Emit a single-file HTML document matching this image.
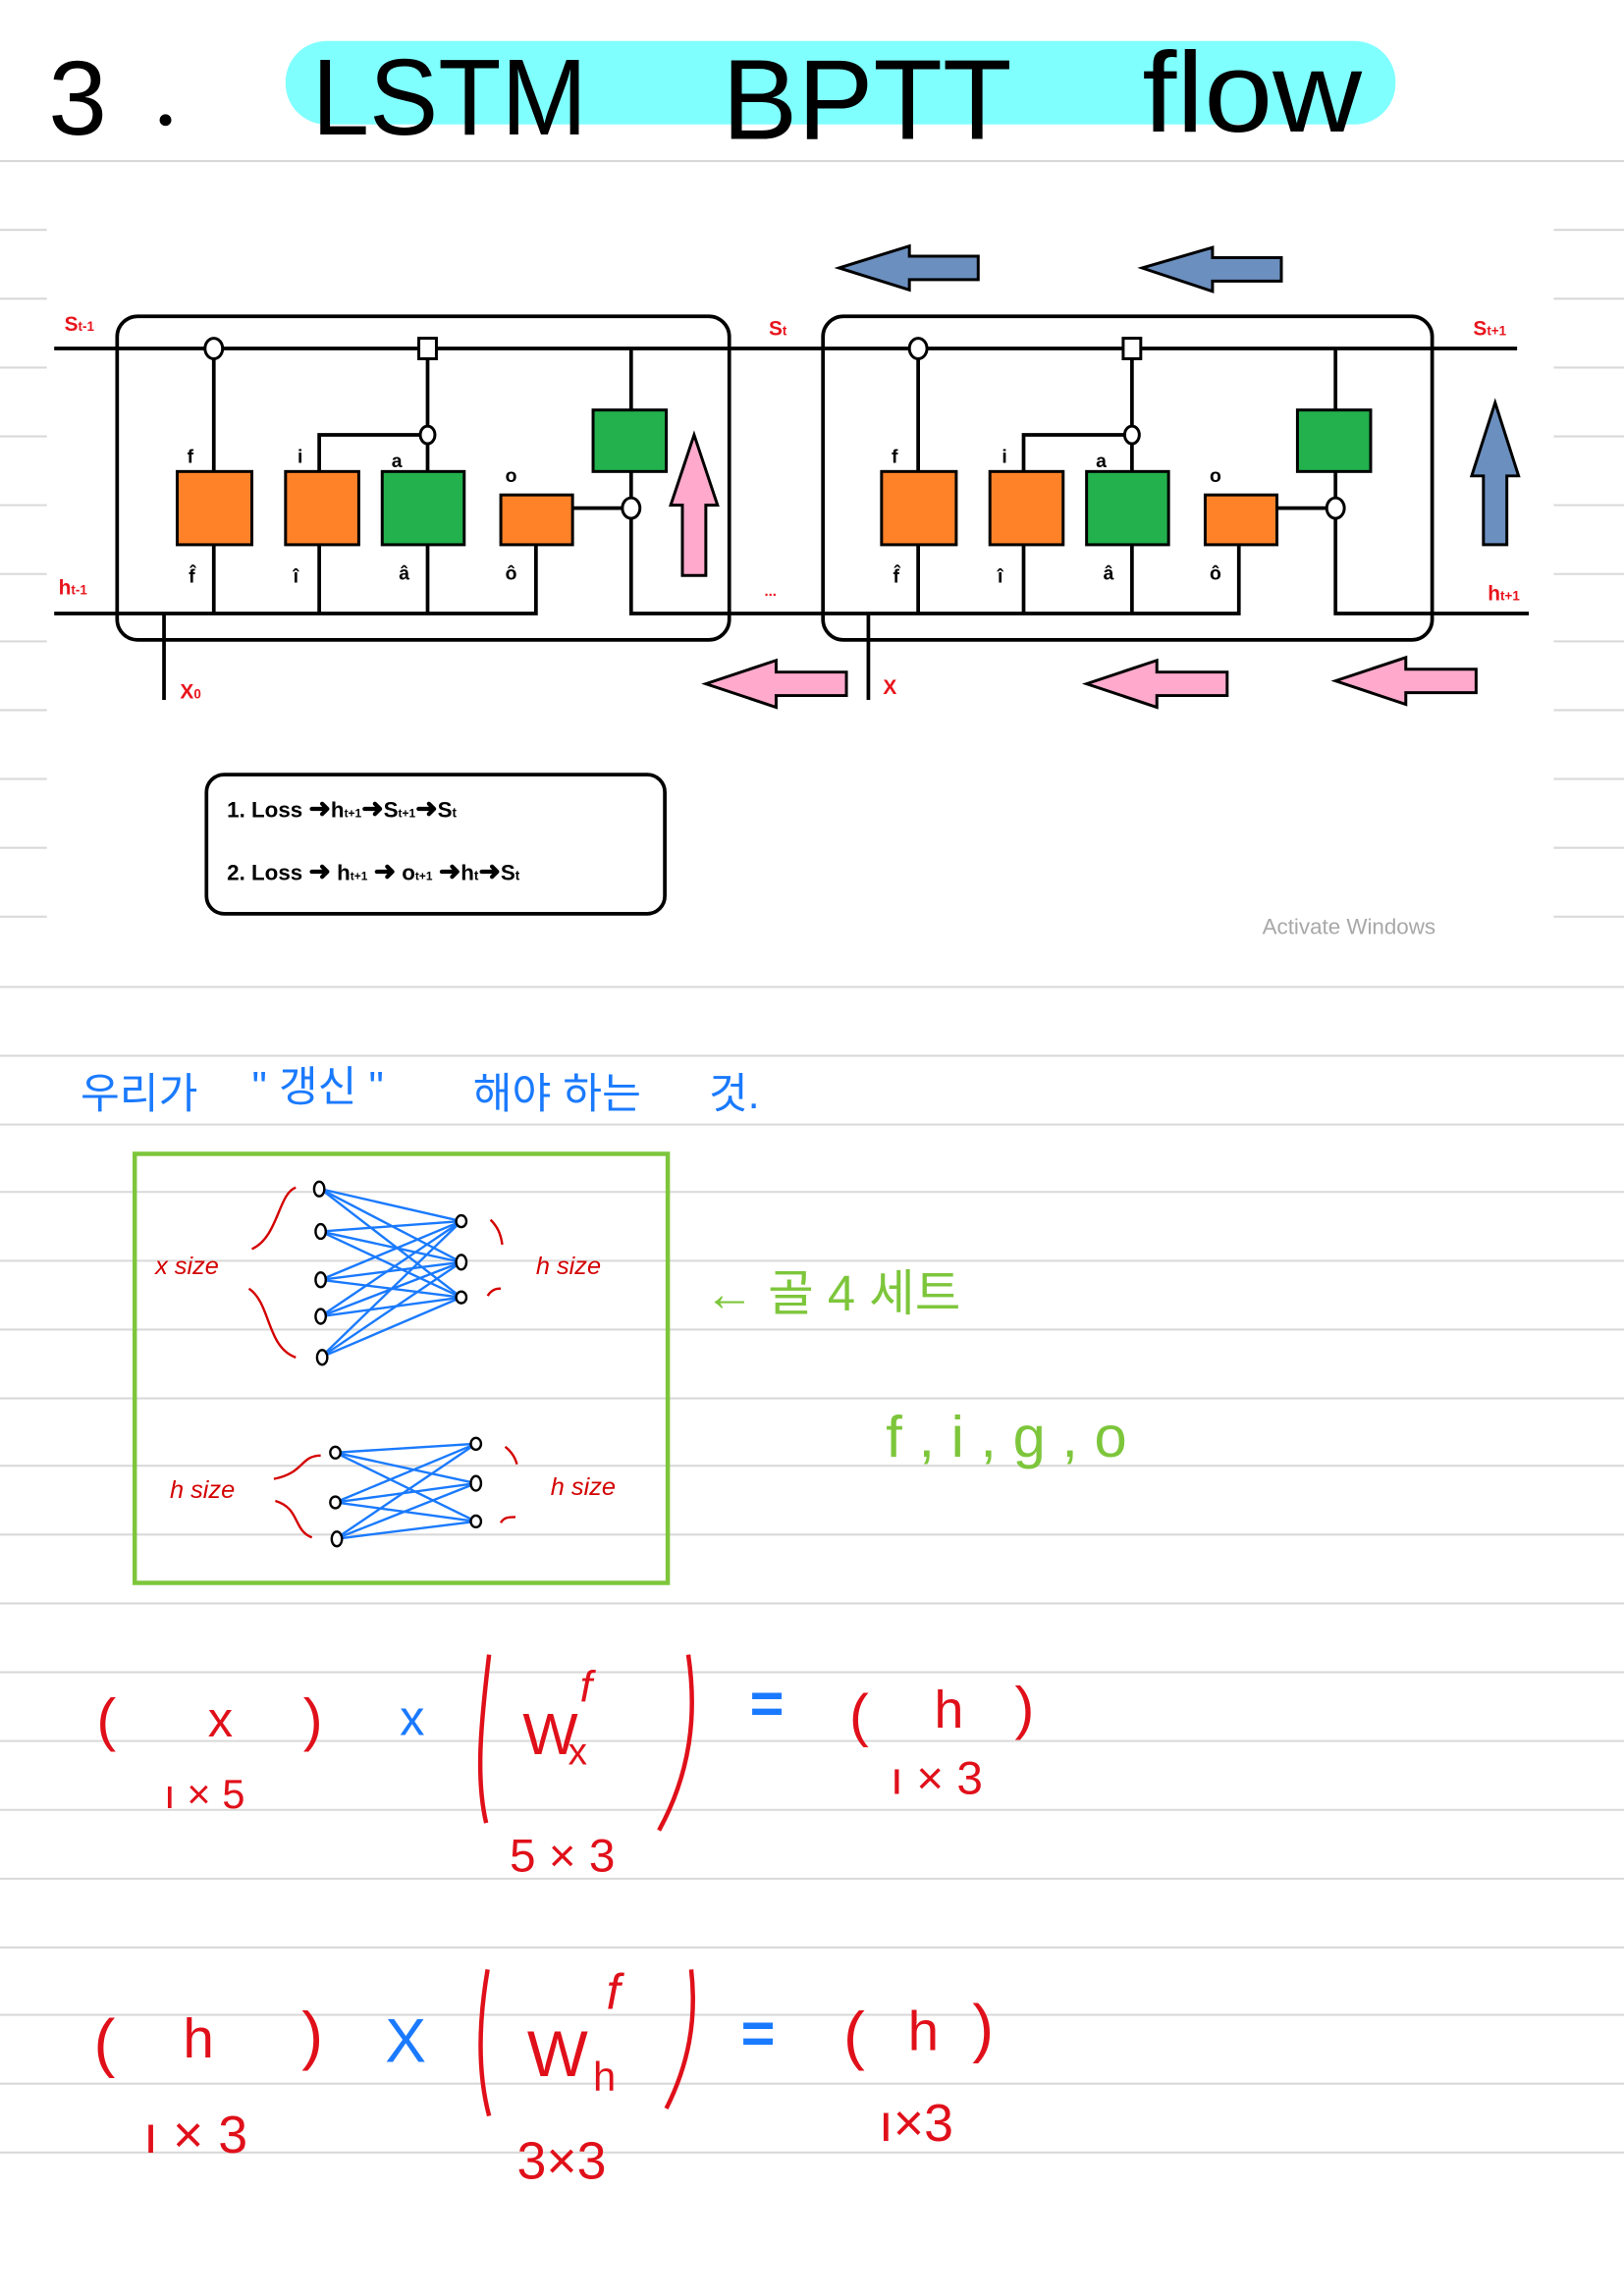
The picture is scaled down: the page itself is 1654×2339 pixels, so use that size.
<!DOCTYPE html>
<html><head><meta charset="utf-8"><style>
html,body{margin:0;padding:0;background:#fff}
svg{display:block}
text{font-family:"Liberation Sans","Noto Sans CJK KR",sans-serif}
</style></head><body>
<svg width="1654" height="2339" viewBox="0 0 1109 1568" preserveAspectRatio="none" xmlns="http://www.w3.org/2000/svg">
<rect width="1109" height="1568" fill="#fff"/>
<g stroke="#d9d9d9" stroke-width="1.4">
<line x1="0" y1="110" x2="1109" y2="110"/>
<g>
<line x1="0" y1="157" x2="32" y2="157"/><line x1="1061" y1="157" x2="1109" y2="157"/>
<line x1="0" y1="204" x2="32" y2="204"/><line x1="1061" y1="204" x2="1109" y2="204"/>
<line x1="0" y1="251" x2="32" y2="251"/><line x1="1061" y1="251" x2="1109" y2="251"/>
<line x1="0" y1="298" x2="32" y2="298"/><line x1="1061" y1="298" x2="1109" y2="298"/>
<line x1="0" y1="345" x2="32" y2="345"/><line x1="1061" y1="345" x2="1109" y2="345"/>
<line x1="0" y1="392" x2="32" y2="392"/><line x1="1061" y1="392" x2="1109" y2="392"/>
<line x1="0" y1="438" x2="32" y2="438"/><line x1="1061" y1="438" x2="1109" y2="438"/>
<line x1="0" y1="485" x2="32" y2="485"/><line x1="1061" y1="485" x2="1109" y2="485"/>
<line x1="0" y1="532" x2="32" y2="532"/><line x1="1061" y1="532" x2="1109" y2="532"/>
<line x1="0" y1="579" x2="32" y2="579"/><line x1="1061" y1="579" x2="1109" y2="579"/>
<line x1="0" y1="626" x2="32" y2="626"/><line x1="1061" y1="626" x2="1109" y2="626"/>
</g>
<line x1="0" y1="674" x2="1109" y2="674"/><line x1="0" y1="721" x2="1109" y2="721"/>
<line x1="0" y1="768" x2="1109" y2="768"/><line x1="0" y1="814" x2="1109" y2="814"/>
<line x1="0" y1="861" x2="1109" y2="861"/><line x1="0" y1="908" x2="1109" y2="908"/>
<line x1="0" y1="955" x2="1109" y2="955"/><line x1="0" y1="1001" x2="1109" y2="1001"/>
<line x1="0" y1="1048" x2="1109" y2="1048"/><line x1="0" y1="1095" x2="1109" y2="1095"/>
<line x1="0" y1="1142" x2="1109" y2="1142"/><line x1="0" y1="1189" x2="1109" y2="1189"/>
<line x1="0" y1="1236" x2="1109" y2="1236"/><line x1="0" y1="1283" x2="1109" y2="1283"/>
<line x1="0" y1="1330" x2="1109" y2="1330"/><line x1="0" y1="1376" x2="1109" y2="1376"/>
<line x1="0" y1="1423" x2="1109" y2="1423"/><line x1="0" y1="1470" x2="1109" y2="1470"/>
</g>

<!-- Title -->
<rect x="195" y="28" width="758" height="57" rx="28" fill="#80ffff"/>
<text x="33" y="92" font-size="72" fill="#000">3</text>
<circle cx="113" cy="82" r="4" fill="#000"/>
<text x="213" y="92" font-size="74" fill="#000" textLength="188" lengthAdjust="spacingAndGlyphs">LSTM</text>
<text x="493" y="95" font-size="78" fill="#000" textLength="198" lengthAdjust="spacingAndGlyphs">BPTT</text>
<text x="780" y="90" font-size="78" fill="#000" textLength="150" lengthAdjust="spacingAndGlyphs">flow</text>

<!-- LSTM diagram -->
<g stroke="#000" stroke-width="2.5" fill="none">
<rect x="80" y="216" width="418" height="221" rx="14"/>
<rect x="562" y="216" width="416" height="221" rx="14"/>
<line x1="37" y1="238" x2="1036" y2="238"/>
<polyline points="37,419 366,419 366,372"/>
<polyline points="431,238 431,419 846,419 846,372"/>
<polyline points="912,238 912,419 1044,419"/>
<line x1="112" y1="419" x2="112" y2="478"/>
<line x1="593" y1="419" x2="593" y2="478"/>
<line x1="146" y1="238" x2="146" y2="419"/>
<polyline points="218,419 218,297 292,297"/>
<line x1="292" y1="238" x2="292" y2="419"/>
<line x1="391" y1="347" x2="431" y2="347"/>
<line x1="627" y1="238" x2="627" y2="419"/>
<polyline points="699,419 699,297 773,297"/>
<line x1="773" y1="238" x2="773" y2="419"/>
<line x1="872" y1="347" x2="912" y2="347"/>
</g>
<g stroke="#000" stroke-width="2">
<rect x="121" y="322" width="51" height="50" fill="#ff8229"/>
<rect x="195" y="322" width="50" height="50" fill="#ff8229"/>
<rect x="261" y="322" width="56" height="50" fill="#22b14c"/>
<rect x="342" y="338" width="49" height="34" fill="#ff8229"/>
<rect x="405" y="280" width="50" height="42" fill="#22b14c"/>
<rect x="602" y="322" width="51" height="50" fill="#ff8229"/>
<rect x="676" y="322" width="50" height="50" fill="#ff8229"/>
<rect x="742" y="322" width="56" height="50" fill="#22b14c"/>
<rect x="823" y="338" width="49" height="34" fill="#ff8229"/>
<rect x="886" y="280" width="50" height="42" fill="#22b14c"/>
<ellipse cx="146" cy="238" rx="6" ry="7" fill="#fff"/>
<rect x="286" y="231" width="12" height="14" fill="#fff"/>
<ellipse cx="292" cy="297" rx="5" ry="6" fill="#fff"/>
<ellipse cx="431" cy="347" rx="6" ry="7" fill="#fff"/>
<ellipse cx="627" cy="238" rx="6" ry="7" fill="#fff"/>
<rect x="767" y="231" width="12" height="14" fill="#fff"/>
<ellipse cx="773" cy="297" rx="5" ry="6" fill="#fff"/>
<ellipse cx="912" cy="347" rx="6" ry="7" fill="#fff"/>
<polygon points="474,297 490,345 482,345 482,393 466,393 466,345 458,345" fill="#ffaacc"/>
<polygon points="1021,275 1037,325 1029,325 1029,372 1013,372 1013,325 1005,325" fill="#6b8fbf"/>
<polygon points="573,183 621,168 621,175 668,175 668,191 621,191 621,198" fill="#6b8fbf"/>
<polygon points="780,183 828,169 828,176 875,176 875,192 828,192 828,199" fill="#6b8fbf"/>
<polygon points="482,467 530,451 530,459 578,459 578,475 530,475 530,483" fill="#ffaacc"/>
<polygon points="742,467 790,451 790,459 838,459 838,475 790,475 790,483" fill="#ffaacc"/>
<polygon points="912,465 960,449 960,457 1008,457 1008,473 960,473 960,481" fill="#ffaacc"/>
</g>
<g font-size="13" font-weight="bold" fill="#000" text-anchor="middle">
<text x="130" y="316">f</text><text x="205" y="316">i</text><text x="271" y="319">a</text><text x="349" y="329">o</text>
<text x="611" y="316">f</text><text x="686" y="316">i</text><text x="752" y="319">a</text><text x="830" y="329">o</text>
<text x="131" y="398">f̂</text><text x="202" y="398">î</text><text x="276" y="396">â</text><text x="349" y="396">ô</text>
<text x="612" y="398">f̂</text><text x="683" y="398">î</text><text x="757" y="396">â</text><text x="830" y="396">ô</text>
</g>
<g fill="#e8141c" font-size="14" font-weight="bold">
<text x="44" y="226">S<tspan font-size="9">t-1</tspan></text>
<text x="525" y="229">S<tspan font-size="9">t</tspan></text>
<text x="1006" y="229">S<tspan font-size="9">t+1</tspan></text>
<text x="40" y="406">h<tspan font-size="9">t-1</tspan></text>
<text x="522" y="407" font-size="10">...</text>
<text x="1016" y="410">h<tspan font-size="9">t+1</tspan></text>
<text x="123" y="477">X<tspan font-size="9">0</tspan></text>
<text x="603" y="474">X</text>
</g>
<rect x="141" y="529" width="313" height="95" rx="12" fill="none" stroke="#000" stroke-width="2.5"/>
<g font-size="15" fill="#000" font-weight="600">
<text x="155" y="558">1.  Loss <tspan font-size="18">➜</tspan>h<tspan font-size="8">t+1</tspan><tspan font-size="18">➜</tspan>S<tspan font-size="8">t+1</tspan><tspan font-size="18">➜</tspan>S<tspan font-size="9">t</tspan></text>
<text x="155" y="601">2.  Loss <tspan font-size="18">➜</tspan>  h<tspan font-size="8">t+1</tspan>  <tspan font-size="18">➜</tspan>  o<tspan font-size="8">t+1</tspan>  <tspan font-size="18">➜</tspan>h<tspan font-size="9">t</tspan><tspan font-size="18">➜</tspan>S<tspan font-size="9">t</tspan></text>
</g>
<text x="862" y="638" font-size="15" fill="#a8a8a8">Activate Windows</text>

<!-- Korean line -->
<g fill="#1a7aff" font-size="29">
<text x="55" y="757">우리가</text>
<text x="172" y="752">"  갱신  "</text>
<text x="323" y="757">해야 하는</text>
<text x="484" y="757">것.</text>
</g>

<!-- green box -->
<rect x="92" y="788" width="364" height="293" fill="none" stroke="#7dc63b" stroke-width="3"/>
<g stroke="#1a7aff" stroke-width="1.6">
<line x1="219" y1="812" x2="315" y2="834"/><line x1="219" y1="812" x2="315" y2="862"/><line x1="219" y1="812" x2="315" y2="886"/>
<line x1="219" y1="841" x2="315" y2="834"/><line x1="219" y1="841" x2="315" y2="862"/><line x1="219" y1="841" x2="315" y2="886"/>
<line x1="219" y1="874" x2="315" y2="834"/><line x1="219" y1="874" x2="315" y2="862"/><line x1="219" y1="874" x2="315" y2="886"/>
<line x1="219" y1="899" x2="315" y2="834"/><line x1="219" y1="899" x2="315" y2="862"/><line x1="219" y1="899" x2="315" y2="886"/>
<line x1="219" y1="927" x2="315" y2="834"/><line x1="219" y1="927" x2="315" y2="862"/><line x1="219" y1="927" x2="315" y2="886"/>
<line x1="229" y1="992" x2="325" y2="986"/><line x1="229" y1="992" x2="325" y2="1013"/><line x1="229" y1="992" x2="325" y2="1039"/>
<line x1="229" y1="1026" x2="325" y2="986"/><line x1="229" y1="1026" x2="325" y2="1013"/><line x1="229" y1="1026" x2="325" y2="1039"/>
<line x1="229" y1="1051" x2="325" y2="986"/><line x1="229" y1="1051" x2="325" y2="1013"/><line x1="229" y1="1051" x2="325" y2="1039"/>
</g>
<g fill="#fff" stroke="#000" stroke-width="1.6">
<ellipse cx="218" cy="812" rx="3.5" ry="5"/><ellipse cx="219" cy="841" rx="3.5" ry="5"/><ellipse cx="219" cy="874" rx="3.5" ry="5"/><ellipse cx="219" cy="899" rx="3.5" ry="5"/><ellipse cx="220" cy="927" rx="3.5" ry="5"/>
<ellipse cx="315" cy="834" rx="3.5" ry="4"/><ellipse cx="315" cy="862" rx="3.5" ry="5"/><ellipse cx="315" cy="886" rx="3.5" ry="4"/>
<ellipse cx="229" cy="992" rx="3.5" ry="4"/><ellipse cx="229" cy="1026" rx="3.5" ry="4"/><ellipse cx="230" cy="1051" rx="3.5" ry="5"/>
<ellipse cx="325" cy="986" rx="3.5" ry="4"/><ellipse cx="325" cy="1013" rx="3.5" ry="5"/><ellipse cx="325" cy="1039" rx="3.5" ry="4"/>
</g>
<g fill="none" stroke="#d40000" stroke-width="1.6">
<path d="M202,811 C190,815 190,845 172,853"/>
<path d="M170,880 C185,890 182,920 202,927"/>
<path d="M335,833 C340,838 342,843 343,850"/>
<path d="M333,885 C336,880 340,880 342,880"/>
<path d="M219,994 C205,994 208,1006 187,1010"/>
<path d="M188,1025 C205,1030 200,1045 213,1050"/>
<path d="M345,988 C350,992 352,996 353,1000"/>
<path d="M342,1040 C344,1036 348,1036 352,1036"/>
</g>
<g fill="#d40000" font-size="17" font-style="italic">
<text x="106" y="870">x size</text>
<text x="366" y="870">h size</text>
<text x="116" y="1023">h size</text>
<text x="376" y="1021">h size</text>
</g>

<g fill="#7dc63b" font-size="34">
<text x="481" y="895">← 골  4  세트</text>
<text x="605" y="995" font-size="40">f , i , g , o</text>
</g>

<!-- Equation 1 -->
<g fill="#e0101a" font-size="40">
<text x="66" y="1188">(</text>
<text x="142" y="1186" font-size="34">x</text>
<text x="207" y="1188">)</text>
<text x="357" y="1198">W</text>
<text x="388" y="1205" font-size="26">x</text>
<text x="396" y="1162" font-size="30" font-style="italic">f</text>
<text x="580" y="1185">(</text>
<text x="638" y="1180" font-size="36">h</text>
<text x="693" y="1180">)</text>
<text x="112" y="1235" font-size="28">ı × 5</text>
<text x="348" y="1278" font-size="32">5 × 3</text>
<text x="608" y="1225" font-size="32">ı × 3</text>
</g>
<g fill="none" stroke="#e0101a" stroke-width="3">
<path d="M334,1130 C328,1180 325,1215 332,1245"/>
<path d="M470,1130 C476,1170 472,1210 450,1250"/>
<path d="M472,1345 C476,1380 470,1410 455,1440"/>
<path d="M333,1345 C327,1380 326,1415 334,1445"/>
</g>
<text x="273" y="1185" fill="#1a7aff" font-size="34">x</text>
<text x="512" y="1177" fill="#1a7aff" font-size="40" font-weight="bold">=</text>

<!-- Equation 2 -->
<g fill="#e0101a" font-size="44">
<text x="64" y="1410">(</text>
<text x="125" y="1405" font-size="38">h</text>
<text x="206" y="1405">)</text>
<text x="360" y="1418">W</text>
<text x="405" y="1428" font-size="28">h</text>
<text x="414" y="1372" font-size="34" font-style="italic">f</text>
<text x="576" y="1405">(</text>
<text x="620" y="1400" font-size="38">h</text>
<text x="664" y="1400">)</text>
<text x="98" y="1470" font-size="36">ı × 3</text>
<text x="353" y="1488" font-size="36">3×3</text>
<text x="600" y="1462" font-size="36">ı×3</text>
</g>
<text x="263" y="1408" fill="#1a7aff" font-size="42">X</text>
<text x="506" y="1402" fill="#1a7aff" font-size="40" font-weight="bold">=</text>
</svg>
</body></html>
